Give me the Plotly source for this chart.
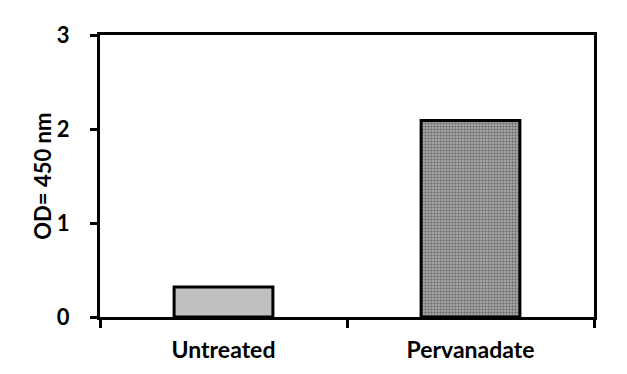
import plotly.graph_objects as go

categories = ["Untreated", "Pervanadate"]
values = [0.32, 2.09]
fill_colors = ["#c0c0c0", "#9c9c9c"]
y_ticks = [0, 1, 2, 3]
y_title = "OD= 450 nm"

FONT = "Lato"

fig = go.Figure()
fig.add_trace(go.Bar(
    x=categories[:1], y=values[:1], width=0.4,
    marker=dict(color=fill_colors[0], line=dict(color="black", width=3)),
    showlegend=False,
))
fig.add_trace(go.Bar(
    x=categories[1:], y=values[1:], width=0.4,
    marker=dict(color=fill_colors[1], line=dict(color="black", width=3),
                pattern=dict(shape=".", size=3, solidity=0.5,
                             fgcolor="#2a2a2a", bgcolor="#b4b4b4")),
    showlegend=False,
))

fig.update_layout(
    width=619, height=366,
    margin=dict(l=92, r=33, t=27, b=57),
    paper_bgcolor="white", plot_bgcolor="white",
    barmode="overlay",
    font=dict(family=FONT, color="black"),
    xaxis=dict(
        type="category", categoryorder="array", categoryarray=categories,
        range=[-0.5, 1.5],
        showline=True, linecolor="black", linewidth=3, mirror=True,
        ticks="outside", tickson="boundaries", ticklen=8, tickwidth=3, tickcolor="black",
        tickfont=dict(family=FONT, size=23, color="black", weight="bold"),
        ticklabelstandoff=10,
        showgrid=False, zeroline=False,
    ),
    yaxis=dict(
        range=[0, 3], tickvals=y_ticks,
        showline=True, linecolor="black", linewidth=3, mirror=True,
        ticks="outside", ticklen=7, tickwidth=3, tickcolor="black",
        tickfont=dict(family=FONT, size=22, color="black", weight="bold"),
        ticklabelstandoff=16,
        showgrid=False, zeroline=False,
    ),
    annotations=[dict(
        text=y_title, textangle=-90, showarrow=False,
        xref="paper", yref="paper", x=-0.118, y=0.5,
        xanchor="center", yanchor="middle",
        font=dict(family=FONT, size=22, color="black", weight="bold"),
    )],
)

fig.write_html("out.html")
